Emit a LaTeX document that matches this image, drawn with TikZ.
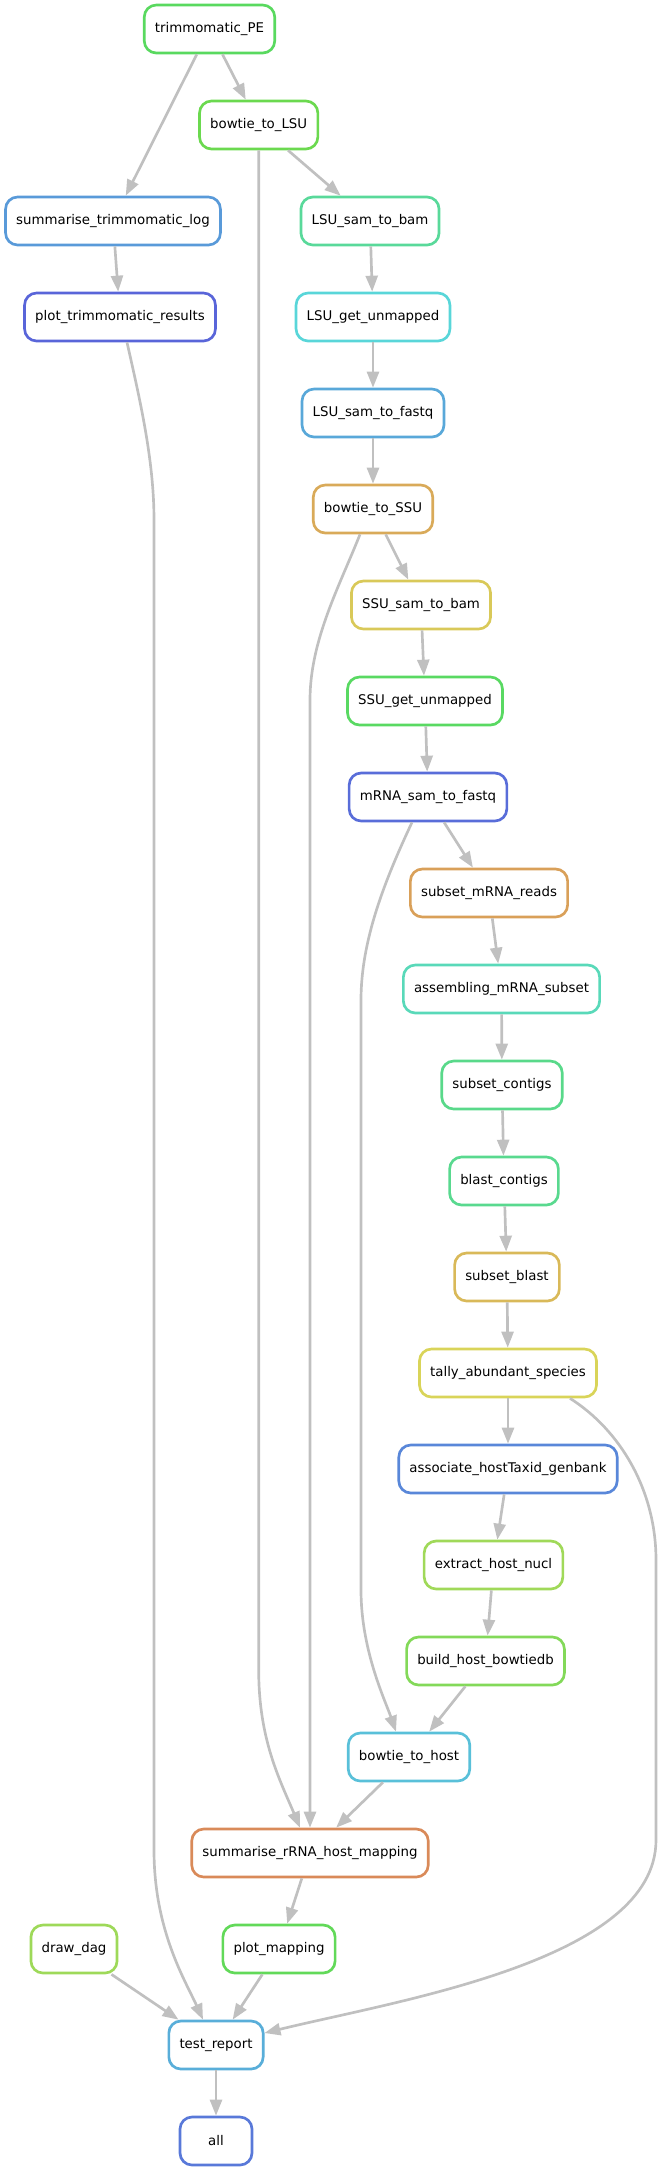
\documentclass[tikz,border=0pt]{standalone}
\usepackage{fontspec}
\setmainfont{DejaVu Sans}
\usetikzlibrary{arrows.meta,calc}
\definecolor{cTrimPE}{HTML}{59D95F}
\definecolor{cBowLSU}{HTML}{6BD94F}
\definecolor{cSumTrim}{HTML}{599AD9}
\definecolor{cLsuBam}{HTML}{59D99A}
\definecolor{cPlotTrim}{HTML}{5965D9}
\definecolor{cLsuUnm}{HTML}{59D6D9}
\definecolor{cLsuFq}{HTML}{59A8D9}
\definecolor{cBowSSU}{HTML}{D9AA59}
\definecolor{cSsuBam}{HTML}{D9C959}
\definecolor{cSsuUnm}{HTML}{59D962}
\definecolor{cMrnaFq}{HTML}{596DD9}
\definecolor{cSubReads}{HTML}{D9A059}
\definecolor{cAssem}{HTML}{59D9B9}
\definecolor{cSubCont}{HTML}{59D98A}
\definecolor{cBlast}{HTML}{59D98F}
\definecolor{cSubBlast}{HTML}{D9B959}
\definecolor{cTally}{HTML}{D9D459}
\definecolor{cAssoc}{HTML}{5987D9}
\definecolor{cExtract}{HTML}{A0D959}
\definecolor{cBuild}{HTML}{83D959}
\definecolor{cBowHost}{HTML}{59C0D9}
\definecolor{cSumRNA}{HTML}{D98A59}
\definecolor{cDag}{HTML}{9ED959}
\definecolor{cPlotMap}{HTML}{62D959}
\definecolor{cTest}{HTML}{59AED9}
\definecolor{cAll}{HTML}{5979D9}
\definecolor{edgegrey}{HTML}{C0C0C0}
\begin{document}
\begin{tikzpicture}[x=0.75pt,y=-0.75pt,
	rulebox/.style={draw=#1, line width=2pt, rounded corners=9pt, fill=white,
		minimum height=36pt, minimum width=54pt, inner xsep=8pt, inner ysep=0pt,
		font=\fontsize{10}{12}\selectfont},
	edge/.style={draw=edgegrey, line width=2pt,
		-{Triangle[length=12pt,width=9pt,fill=edgegrey]}}]
		\useasboundingbox (0,0) rectangle (660,2171);
		% rules
		\node[rulebox=cTrimPE] (trimPE) at (209.5,29) {trimmomatic\_PE};
		\node[rulebox=cBowLSU] (bowtieLSU) at (258.7,125) {bowtie\_to\_LSU};
		\node[rulebox=cSumTrim] (sumTrimLog) at (113,221) {summarise\_trimmomatic\_log};
		\node[rulebox=cLsuBam] (lsuSamBam) at (370,221) {LSU\_sam\_to\_bam};
		\node[rulebox=cPlotTrim] (plotTrim) at (120,317) {plot\_trimmomatic\_results};
		\node[rulebox=cLsuUnm] (lsuUnmapped) at (373,317) {LSU\_get\_unmapped};
		\node[rulebox=cLsuFq] (lsuFastq) at (373,413) {LSU\_sam\_to\_fastq};
		\node[rulebox=cBowSSU] (bowtieSSU) at (373,509) {bowtie\_to\_SSU};
		\node[rulebox=cSsuBam] (ssuSamBam) at (421,605) {SSU\_sam\_to\_bam};
		\node[rulebox=cSsuUnm] (ssuUnmapped) at (425,701) {SSU\_get\_unmapped};
		\node[rulebox=cMrnaFq] (mrnaFastq) at (428,797) {mRNA\_sam\_to\_fastq};
		\node[rulebox=cSubReads] (subsetReads) at (489,893) {subset\_mRNA\_reads};
		\node[rulebox=cAssem] (assembling) at (501.5,989) {assembling\_mRNA\_subset};
		\node[rulebox=cSubCont] (subsetContigs) at (502,1085) {subset\_contigs};
		\node[rulebox=cBlast] (blastContigs) at (504,1181) {blast\_contigs};
		\node[rulebox=cSubBlast] (subsetBlast) at (507,1277) {subset\_blast};
		\node[rulebox=cTally] (tally) at (508,1373) {tally\_abundant\_species};
		\node[rulebox=cAssoc] (associate) at (508,1469) {associate\_hostTaxid\_genbank};
		\node[rulebox=cExtract] (extractHost) at (493.5,1565) {extract\_host\_nucl};
		\node[rulebox=cBuild] (buildHost) at (485.5,1661) {build\_host\_bowtiedb};
		\node[rulebox=cBowHost] (bowtieHost) at (409,1757) {bowtie\_to\_host};
		\node[rulebox=cSumRNA] (sumRNA) at (310,1853) {summarise\_rRNA\_host\_mapping};
		\node[rulebox=cDag] (drawDag) at (74,1949) {draw\_dag};
		\node[rulebox=cPlotMap] (plotMapping) at (279,1949) {plot\_mapping};
		\node[rulebox=cTest] (testReport) at (216,2045) {test\_report};
		\node[rulebox=cAll] (all) at (216,2141) {all};
		% straight edges
		\foreach \a/\b in {trimPE/bowtieLSU, trimPE/sumTrimLog, bowtieLSU/lsuSamBam,
			sumTrimLog/plotTrim, lsuSamBam/lsuUnmapped, lsuUnmapped/lsuFastq,
			lsuFastq/bowtieSSU, bowtieSSU/ssuSamBam, ssuSamBam/ssuUnmapped,
			ssuUnmapped/mrnaFastq, mrnaFastq/subsetReads, subsetReads/assembling,
			assembling/subsetContigs, subsetContigs/blastContigs, blastContigs/subsetBlast,
			subsetBlast/tally, tally/associate, associate/extractHost, extractHost/buildHost,
			buildHost/bowtieHost, bowtieHost/sumRNA, sumRNA/plotMapping,
			drawDag/testReport, plotMapping/testReport, testReport/all}
			\draw[edge] (\a) -- (\b);
		% long edges
		\draw[edge] (bowtieLSU.south) -- (258.7,1670)
			.. controls (258.7,1740) and (280,1780) .. ($(sumRNA.north)+(-10,0)$);
		\draw[edge] ($(bowtieSSU.south)+(-13,0)$) .. controls (340,585) and (310,640) .. (310,700)
			-- (sumRNA.north);
		\draw[edge] ($(mrnaFastq.south)+(-16,0)$) .. controls (385,880) and (361,940) .. (361,1000)
			-- (361,1590) .. controls (361,1650) and (385,1700) .. ($(bowtieHost.north)+(-13,0)$);
		\draw[edge] ($(plotTrim.south)+(7,0)$) .. controls (140,400) and (154,460) .. (154,520)
			-- (154,1850) .. controls (154,1930) and (185,1980) .. ($(testReport.north)+(-13,0)$);
		\draw[edge] ($(tally.south)+(62,0)$) .. controls (620,1430) and (656,1490) .. (656,1560)
			-- (656,1840) .. controls (656,1960) and (400,2000) .. ($(testReport.east)+(0,-12)$);
\end{tikzpicture}
\end{document}
